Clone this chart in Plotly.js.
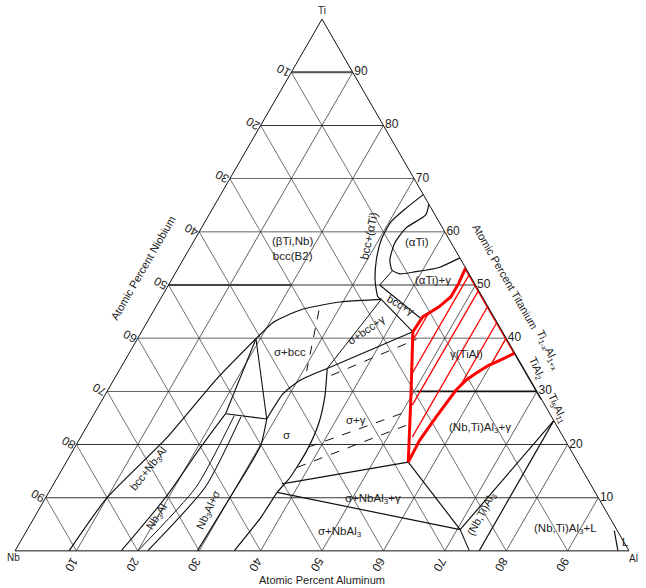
<!DOCTYPE html>
<html><head><meta charset="utf-8">
<script src="https://cdn.plot.ly/plotly-3.0.1.min.js"></script>
<style>html,body{margin:0;padding:0;background:#fff}</style>
</head><body><div id="chart" style="width:646px;height:588px"></div>
<script>
const tickVals = [10,20,30,40,50,60,70,80,90];
const nbEdgeLabels = ['90','80','70','60','50','40','30','20','10'];
const alEdgeLabels = ['90','80','70','60','50','40','30','20','10'];
const tiEdgeLabels = ['90','80','70','60','50','40','30','20','10'];

// Phase boundaries, points as [Ti, Nb, Al] (at.%)
const bccBoundary = [[0,91.2,8.8],[10,80,10],[21,65,14],[32.4,50.9,16.7],[39.9,40.8,19.3]];
const nb3AlLeft = [[0,82.7,17.3],[10,70.5,19.5],[19.5,60,20.5],[25.8,52.8,21.4]];
const nb3AlMid = [[0,80,20],[12,64.5,23.5],[25.4,51.6,23]];
const nb3AlRight = [[0,78.4,21.6],[12,63,25],[25.2,50.6,24.2]];
const tieBccNb3Al = [[39.9,40.8,19.3],[25.8,52.8,21.4]];
const tieBccSigma = [[39.9,40.8,19.3],[24.8,46.6,28.6]];
const tieNb3AlSigma = [[25.8,52.8,21.4],[24.8,46.6,28.6]];
const sigmaLeft = [[0,70.3,29.7],[10,60,30],[19.8,50.1,30.1],[24.8,46.6,28.6]];
const sigmaRight = [[0,64.3,35.7],[6.3,56.8,36.9],[11,51.8,37.2],[13.8,48.3,37.9],[18.9,43,38.1],[23.9,38.6,37.5],[28.9,35.1,36],[34.3,32,33.7]];
const sigmaBccTop = [[39.9,40.8,19.3],[43,36.4,20.6],[45.3,30.9,23.8],[46.8,23.7,29.5],[47.2,18.1,34.7],[47.3,16.7,36]];
const sigmaBccBottom = [[24.8,46.6,28.6],[29.6,41.5,28.9],[32.1,37.5,30.4],[34.3,32,33.7]];
const tieSigmaGamma = [[34.3,32,33.7],[41.2,14.6,44.2]];
const tieBccSigma2 = [[47.3,16.7,36],[34.3,32,33.7]];
const tieBccGamma = [[47.3,16.7,36],[41.2,14.6,44.2]];
const tieBccGamma2 = [[50,15.6,34.4],[43.6,12,44.4]];
const tieAlphaGamma = [[52.6,12.3,35.1],[50,15.6,34.4]];
const bccAlphaOuter = [[67,0,33],[64.5,4,31.5],[61.9,7.8,30.3],[58.5,11.1,30.4],[54.7,13.8,31.5],[50.9,15.9,33.2],[47.8,17,35.2],[47.3,16.7,36]];
const alphaTiInner = [[65.2,0,34.8],[63.2,1.5,35.3],[60.7,6,33.3],[57.9,9.2,32.9],[54.7,11.6,33.7],[52.8,12.2,35],[52.1,11.3,36.6],[52.5,8.5,39],[53.3,4.3,42.4],[55.1,0,44.9]];
const tieSigmaBccDash = [[45.2,27.9,26.9],[33.8,35.6,30.6]];
const sigmaGammaDash = [
  [[33,32,35],[39.8,14.7,45.5]],
  [[19.5,42.5,38],[26.5,22.2,51.3]],
  [[15.7,46.2,38.1],[23.6,24.5,51.9]]
];
const threePhaseA = [[12.6,50.2,37.2],[16.7,27.6,55.7]];
const threePhaseB = [[11,51.8,37.2],[4,25.5,70.5]];
const threePhaseC = [[16.7,27.6,55.7],[4,25.5,70.5]];
const alTi3Low = [[0,26,74],[4,25.5,70.5]];
const alTi3Left = [[4,25.5,70.5],[24.5,0,75.5]];
const alTi3Right = [[0,24.4,75.6],[24.5,0,75.5]];
const liquidEdge = [[3.8,0.5,95.7],[0,1.8,98.2]];
const edgeTiAl = [[37.5,0,62.5],[28.5,0,71.5]];
const tieTi90 = [[90,10,0],[90,0,10]];
const tieTi50 = [[50,50,0],[50,29.9,20.1]];
const tieTi30 = [[30,19.6,50.4],[30,0,70]];

const gammaField = [[53.2,0,46.8],[50.3,2.6,47.1],[47.8,5.1,47.1],[45.9,8,46.1],[44,11.6,44.4],[41.2,14.6,44.2],[29.6,20.7,49.7],[16.7,27.6,55.7],[20.8,23.7,55.5],[25.2,18.8,56],[30.2,13.1,56.7],[32.1,10.5,57.4],[33.3,8.4,58.3],[34.9,5.4,59.7],[36,2.7,61.3],[37.2,0,62.8],[53.2,0,46.8]];
const gammaHatch = [
  [[39.4,15.6,45],[44.6,10.4,45]],
  [[33.4,18.6,48],[52,0,48]],
  [[27.4,21.6,51],[49,0,51]],
  [[21.4,24.6,54],[46,0,54]],
  [[31,12,57],[43,0,57]],
  [[35.1,4.9,60],[40,0,60]]
];

function tern(pts, color, width, dash, shape){
  return {type:'scatterternary', mode:'lines',
    a:pts.map(p=>p[0]), b:pts.map(p=>p[1]), c:pts.map(p=>p[2]),
    line:{color:color, width:width, dash:dash||'solid', shape:shape||'spline', smoothing:0.6},
    hoverinfo:'skip', showlegend:false, cliponaxis:false};
}
const K='#111';
const traces = [
  tern(tieTi90,'#555',2,'solid','linear'),
  tern(tieTi50,'#444',1.8,'solid','linear'),
  tern(tieTi30,'#111',1.8,'solid','linear'),
  tern(bccBoundary,K,1.2), tern(nb3AlLeft,K,1.1), tern(nb3AlMid,K,1), tern(nb3AlRight,K,1.1),
  tern(tieBccNb3Al,K,1.1,'solid','linear'), tern(tieBccSigma,K,1.1,'solid','linear'), tern(tieNb3AlSigma,K,1.1,'solid','linear'),
  tern(sigmaLeft,K,1.2), tern(sigmaRight,K,1.2),
  tern(sigmaBccTop,K,1.2), tern(sigmaBccBottom,K,1.2),
  tern(tieSigmaGamma,K,1.2,'solid','linear'), tern(tieBccSigma2,K,1,'solid','linear'),
  tern(tieBccGamma,K,1.1,'solid','linear'), tern(tieBccGamma2,K,1.1,'solid','linear'), tern(tieAlphaGamma,K,1,'solid','linear'),
  tern(bccAlphaOuter,K,1.2), tern(alphaTiInner,K,1.2),
  tern(tieSigmaBccDash,K,1,'dash','linear'),
  tern(threePhaseA,K,1.2,'solid','linear'), tern(threePhaseB,K,1.2,'solid','linear'), tern(threePhaseC,K,1.2,'solid','linear'),
  tern(alTi3Low,K,1.1,'solid','linear'), tern(alTi3Left,K,1.2,'solid','linear'), tern(alTi3Right,K,1.2,'solid','linear'),
  tern(liquidEdge,K,1.2,'solid','linear'), tern(edgeTiAl,K,2.2,'solid','linear')
];
sigmaGammaDash.forEach(d=>traces.push(tern(d,K,1,'dash','linear')));
gammaHatch.forEach(h=>traces.push(tern(h,'#ff0000',1.3,'solid','linear')));
traces.push(tern(gammaField,'#ff0000',3,'solid','linear'));

const W=646,H=588;
const FONT='Liberation Sans, Arial, sans-serif';
function ann(text, px, py, angle, size){
  return {text:text, x:px/W, y:1-py/H, xref:'paper', yref:'paper', showarrow:false,
    textangle:angle||0, font:{family:FONT, size:size||11.5, color:'#222'},
    xanchor:'center', yanchor:'middle'};
}
const annotations = [
  ann('Ti',322,10,0,10), ann('Nb',13,557,0,10), ann('Al',633,558,0,10),
  ann('Atomic Percent Niobium',143,268,-60,11),
  ann('Atomic Percent Titanium',505,276,60,11),
  ann('Atomic Percent Aluminum',322,580,0,11),
  ann('(βTi,Nb)<br>bcc(B2)',292,248),
  ann('bcc+(αTi)',369,236,-78),
  ann('(αTi)',417,242),
  ann('(αTi)+γ',433,280),
  ann('bcc+γ',401,305,30,11),
  ann('σ+bcc+γ',366,330,-35,11),
  ann('σ+bcc',290,352),
  ann('γ(TiAl)',466,354),
  ann('σ+γ',356,420),
  ann('σ',286,435),
  ann('(Nb,Ti)Al<sub>3</sub>+γ',480,428),
  ann('σ+NbAl<sub>3</sub>+γ',373,499),
  ann('σ+NbAl<sub>3</sub>',340,532),
  ann('(Nb,Ti)Al<sub>3</sub>',482,514,-62,11),
  ann('(Nb,Ti)Al<sub>3</sub>+L',565,529),
  ann('L',625,542),
  ann('bcc+Nb<sub>3</sub>Al',149,469,-52,11),
  ann('Nb<sub>3</sub>Al',157,517,-57,11),
  ann('Nb<sub>3</sub>Al+σ',209,510,-65,11),
  ann('Ti<sub>1-x</sub>Al<sub>1+x</sub>',548,350,65,11),
  ann('TiAl<sub>2</sub>',536,368,65,11),
  ann('Ti<sub>5</sub>Al<sub>11</sub>',557,408,65,11)
];

const axBase = {tickvals:tickVals, ticks:'', ticklen:0, showline:true, linecolor:'#111', linewidth:1,
  showgrid:true, gridcolor:'#333', gridwidth:0.7, title:{text:''},
  tickfont:{family:FONT, size:12, color:'#222'}};
const layout = {
  width:W, height:H, margin:{l:0,r:0,t:0,b:0}, paper_bgcolor:'#fff', showlegend:false,
  font:{family:FONT, size:11, color:'#222'},
  ternary:{sum:100, bgcolor:'#fff',
    domain:{x:[15/646, 629/646], y:[1-551/588, 1-19/588]},
    aaxis:Object.assign({}, axBase, {ticktext:nbEdgeLabels, tickangle:-150, gridwidth:0.9,
      ticks:'outside', ticklen:12, tickcolor:'rgba(0,0,0,0)'}),
    baxis:Object.assign({}, axBase, {ticktext:alEdgeLabels, tickangle:120}),
    caxis:Object.assign({}, axBase, {ticktext:tiEdgeLabels, tickangle:0})
  },
  annotations:annotations
};
Plotly.newPlot('chart', traces, layout, {displayModeBar:false, staticPlot:true});
</script></body></html>
